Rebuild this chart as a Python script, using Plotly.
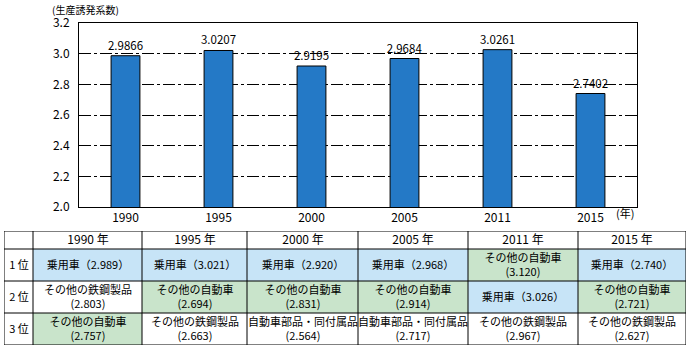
import plotly.graph_objects as go

# ---- data ----
years = ["1990", "1995", "2000", "2005", "2011", "2015"]
coefficients = [2.9866, 3.0207, 2.9195, 2.9684, 3.0261, 2.7402]
y_ticks = [2.0, 2.2, 2.4, 2.6, 2.8, 3.0, 3.2]

rank_labels = ["1 位", "2 位", "3 位"]
rank1_items = ["乗用車", "乗用車", "乗用車", "乗用車", "その他の自動車", "乗用車"]
rank1_values = [2.989, 3.021, 2.920, 2.968, 3.120, 2.740]
rank2_items = ["その他の鉄鋼製品", "その他の自動車", "その他の自動車", "その他の自動車", "乗用車", "その他の自動車"]
rank2_values = [2.803, 2.694, 2.831, 2.914, 3.026, 2.721]
rank3_items = ["その他の自動車", "その他の鉄鋼製品", "自動車部品・同付属品", "自動車部品・同付属品", "その他の鉄鋼製品", "その他の鉄鋼製品"]
rank3_values = [2.757, 2.663, 2.564, 2.717, 2.967, 2.627]

# ---- layout sizes (pixels) ----
W, H = 691, 357
FONT = "Noto Sans CJK JP"
BAR_COLOR = "#2479C6"
BLUE = "#C7E4F7"
GREEN = "#C9E4CB"
col_widths = [29, 109, 105, 111, 110, 110, 108]
header_h = 18
row_h = 32


def px_x(p):
    return p / W


def px_y(p):
    return 1 - p / H


def cell_text(name, v):
    if name == "乗用車":
        return f"{name}（{v:.3f}）"
    return f"{name}<br>({v:.3f})"


def cell_code(name):
    if name == "乗用車":
        return 1
    if name == "その他の自動車":
        return 2
    return 0


ranks = [(rank1_items, rank1_values), (rank2_items, rank2_values), (rank3_items, rank3_values)]
body_text = []
body_z = []
for r, (items, vals) in enumerate(ranks):
    body_text.append([rank_labels[r]] + [cell_text(items[i], vals[i]) for i in range(len(years))])
    body_z.append([0] + [cell_code(items[i]) for i in range(len(years))])

header_text = [[""] + [f"{y} 年" for y in years]]
header_z = [[0] * (len(years) + 1)]

x_edges = [0]
for w in col_widths:
    x_edges.append(x_edges[-1] + w)
y_edges = [0, header_h]
for _ in rank_labels:
    y_edges.append(y_edges[-1] + row_h)
table_w = x_edges[-1]
table_h = y_edges[-1]

fig = go.Figure()

fig.add_trace(go.Bar(
    x=years, y=coefficients,
    width=0.31,
    marker=dict(color=BAR_COLOR, line=dict(color="black", width=1)),
    text=[f"{v:.4f}" for v in coefficients],
    textposition="outside",
    constraintext="none",
    textfont=dict(family=FONT, size=11.5, color="black"),
    cliponaxis=False,
    hoverinfo="skip",
    xaxis="x", yaxis="y",
    showlegend=False,
))

cscale = [[0, "white"], [0.5, BLUE], [1, GREEN]]

fig.add_trace(go.Heatmap(
    z=header_z, x=x_edges, y=y_edges[:2], text=header_text,
    texttemplate="%{text}", textfont=dict(family=FONT, size=12, color="black"),
    colorscale=cscale, zmin=0, zmax=2, showscale=False, hoverinfo="skip",
    xaxis="x2", yaxis="y2",
))
fig.add_trace(go.Heatmap(
    z=body_z, x=x_edges, y=y_edges[1:], text=body_text,
    texttemplate="%{text}", textfont=dict(family=FONT, size=11, color="black"),
    colorscale=cscale, zmin=0, zmax=2, showscale=False, hoverinfo="skip",
    xaxis="x2", yaxis="y2",
))

# table rules
lx, ly = [], []
for xe in x_edges:
    lx += [xe, xe, None]
    ly += [0, table_h, None]
for ye in y_edges:
    lx += [0, table_w, None]
    ly += [ye, ye, None]
fig.add_trace(go.Scatter(
    x=lx, y=ly, mode="lines", line=dict(color="black", width=1),
    hoverinfo="skip", showlegend=False, xaxis="x2", yaxis="y2", cliponaxis=False,
))

fig.update_layout(
    width=W, height=H,
    margin=dict(l=0, r=0, t=0, b=0, autoexpand=False),
    paper_bgcolor="white",
    plot_bgcolor="white",
    font=dict(family=FONT, color="black"),
    showlegend=False,
    hovermode=False,
    xaxis=dict(
        domain=[px_x(79), px_x(637)],
        anchor="y",
        automargin=False,
        showline=True, mirror=True, linecolor="black", linewidth=1,
        ticks="", showgrid=False,
        tickfont=dict(family=FONT, size=12, color="black"),
        ticklabelstandoff=0,
        fixedrange=True,
    ),
    yaxis=dict(
        domain=[px_y(207), px_y(23)],
        anchor="x",
        automargin=False,
        range=[2.0, 3.2],
        tickvals=y_ticks,
        ticktext=[f"{v:.1f}" for v in y_ticks],
        showline=True, mirror=True, linecolor="black", linewidth=1,
        showgrid=True, gridcolor="black", gridwidth=1,
        griddash="12px,3px,3px,3px",
        zeroline=False,
        ticks="",
        ticklabelstandoff=6,
        tickfont=dict(family=FONT, size=12, color="black"),
        fixedrange=True,
    ),
    xaxis2=dict(
        domain=[px_x(4), px_x(4 + table_w)],
        anchor="y2",
        automargin=False,
        range=[0, table_w],
        showgrid=False, zeroline=False, showticklabels=False, ticks="", showline=False,
        fixedrange=True,
    ),
    yaxis2=dict(
        domain=[px_y(231 + table_h), px_y(231)],
        anchor="x2",
        automargin=False,
        range=[table_h, 0],
        showgrid=False, zeroline=False, showticklabels=False, ticks="", showline=False,
        fixedrange=True,
    ),
    annotations=[
        dict(text="(生産誘発系数)", x=px_x(50), y=px_y(9), xref="paper", yref="paper",
             xanchor="left", yanchor="middle", showarrow=False,
             font=dict(family=FONT, size=10, color="black")),
        dict(text="(年)", x=px_x(614), y=px_y(213), xref="paper", yref="paper",
             xanchor="left", yanchor="middle", showarrow=False,
             font=dict(family=FONT, size=11, color="black")),
    ],
)

fig.write_html("out.html", config={"displayModeBar": False},
               post_script="document.body.style.margin='0px';")
